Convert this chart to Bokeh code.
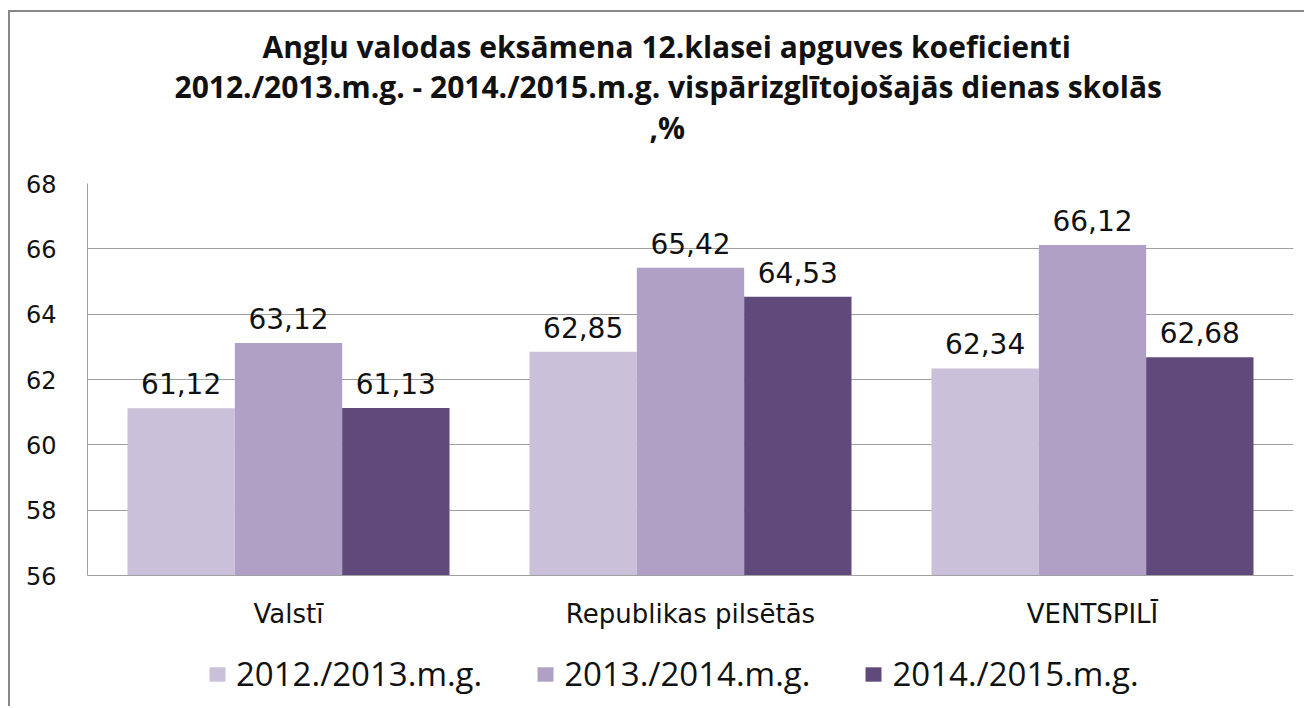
from bokeh.plotting import figure
from bokeh.models import ColumnDataSource, Title, FactorRange, LabelSet
from bokeh.transform import dodge
from bokeh.core.properties import value
from bokeh.embed import file_html
from bokeh.resources import INLINE

categories = ["Valstī", "Republikas pilsētās", "VENTSPILĪ"]
series_names = ["2012./2013.m.g.", "2013./2014.m.g.", "2014./2015.m.g."]
v2013 = [61.12, 62.85, 62.34]
v2014 = [63.12, 65.42, 66.12]
v2015 = [61.13, 64.53, 62.68]
colors = ["#CBC0DA", "#B0A0C6", "#604A7B"]
yticks = [56, 58, 60, 62, 64, 66, 68]

series = [v2013, v2014, v2015]
offsets = [-0.267, 0.0, 0.267]

# axis min 56 sits 131px above the frame bottom; 32.667 px per unit
y_axis_min, y_axis_max = 56, 68
y_view_start = y_axis_min - 131 / 32.667

p = figure(x_range=FactorRange(*categories, range_padding=0),
           y_range=(y_view_start, y_axis_max),
           width=1296, height=694, output_backend="svg", toolbar_location=None,
           min_border_left=77, min_border_right=13, min_border_bottom=0, min_border_top=171,
           styles={"border-left": "2px solid #878787",
                   "box-shadow": "0px -2px 0px 0px #878787",
                   "margin-left": "8px", "margin-top": "12px"})
p.outline_line_color = None
p.background_fill_color = "white"
p.border_fill_color = "white"

for name, vals, off, col in zip(series_names, series, offsets, colors):
    src = ColumnDataSource(dict(cat=categories, val=vals, lab=[f"{v:.2f}".replace(".", ",") for v in vals]))
    p.vbar(x=dodge("cat", off, range=p.x_range), top="val", bottom=y_axis_min, width=0.267,
           source=src, fill_color=col, line_color=None, legend_label=name)
    lbl = LabelSet(x=dodge("cat", off, range=p.x_range), y="val", text="lab", source=src,
                   text_align="center", text_baseline="bottom", y_offset=14,
                   text_font=value("DejaVu Sans"), text_font_size="28px", text_color="#111111")
    p.add_layout(lbl)

p.yaxis.ticker = yticks
p.yaxis.bounds = (y_axis_min, y_axis_max)
p.xaxis.fixed_location = y_axis_min
p.ygrid.grid_line_color = "#a0a0a0"
p.ygrid.grid_line_width = 1
p.xgrid.grid_line_color = None
p.yaxis.axis_line_color = "#a0a0a0"
p.xaxis.axis_line_color = "#a0a0a0"
p.yaxis.major_tick_line_color = None
p.yaxis.minor_tick_line_color = None
p.xaxis.major_tick_line_color = None
p.yaxis.major_label_text_font = "DejaVu Sans"
p.yaxis.major_label_text_font_size = "24px"
p.yaxis.major_label_text_color = "#111111"
p.yaxis.major_label_standoff = 25
p.xaxis.major_label_text_font = "DejaVu Sans"
p.xaxis.major_label_text_font_size = "26px"
p.xaxis.major_label_text_color = "#111111"
p.xaxis.major_label_standoff = 17

title_lines = ["Angļu valodas eksāmena 12.klasei apguves koeficienti",
               "2012./2013.m.g. - 2014./2015.m.g. vispārizglītojošajās dienas skolās",
               ",%"]
title_offsets = [175, 87, 562]
title_standoffs = [-4, -2, -2]
# spacer between the title block and the plot area
p.add_layout(Title(text=" ", align="left", text_font="Open Sans", text_font_size="30px",
                   standoff=-6), "above")
for t, off, so in reversed(list(zip(title_lines, title_offsets, title_standoffs))):
    p.add_layout(Title(text=t, align="left", text_font="Open Sans", text_font_style="bold",
                       text_font_size="30px", text_color="#111111", offset=off,
                       standoff=so), "above")

leg = p.legend[0]
leg.orientation = "horizontal"
leg.border_line_color = None
leg.background_fill_alpha = 0
leg.label_text_font = "Open Sans"
leg.label_text_font_size = "33px"
leg.label_text_color = "#111111"
leg.glyph_width = 20
leg.glyph_height = 18
leg.label_standoff = 9
leg.spacing = 53
leg.padding = 0
leg.margin = 0
leg.location = (120, 10)

open("out.html", "w").write(file_html(p, INLINE))
